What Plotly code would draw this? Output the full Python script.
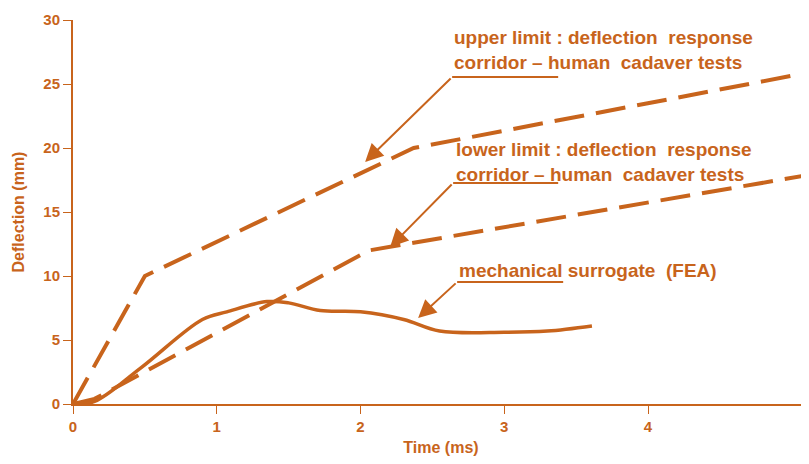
import plotly.graph_objects as go

# Data
upper_t = [0, 0.5, 2.37, 5.12]
upper_d = [0, 10, 20, 25.9]
lower_t = [0, 0.15, 2.06, 5.12]
lower_d = [0, 0.4, 12, 17.9]
fea_t = [0, 0.15, 0.47, 0.9, 1.07, 1.35, 1.5, 1.72, 2.0, 2.3, 2.55, 3.0, 3.3, 3.61]
fea_d = [0, 0.2, 2.8, 6.6, 7.2, 8.0, 7.9, 7.3, 7.2, 6.6, 5.7, 5.6, 5.7, 6.1]
x_ticks = [0, 1, 2, 3, 4]
y_ticks = [0, 5, 10, 15, 20, 25, 30]

C = "#c8641c"
FONT = "Liberation Sans, Arial, sans-serif"
SP = "\u00a0"

fig = go.Figure()
fig.add_trace(go.Scatter(x=upper_t, y=upper_d, mode="lines",
                         line=dict(color=C, width=4, dash="30px,12px"), hoverinfo="skip"))
fig.add_trace(go.Scatter(x=lower_t, y=lower_d, mode="lines",
                         line=dict(color=C, width=4, dash="30px,12px"), hoverinfo="skip"))
fig.add_trace(go.Scatter(x=fea_t, y=fea_d, mode="lines", line_shape="spline",
                         line=dict(color=C, width=3.5), hoverinfo="skip"))

def px2x(p):
    return (p - 73) / 143.7

def px2y(p):
    return (404 - p) / 12.8

annotations = []
shapes = []
line1 = "upper limit" + SP + ":" + SP + "deflection" + SP + SP + "response"
line2 = "corridor \u2013 human" + SP + SP + "cadaver tests"
line3 = "lower limit" + SP + ":" + SP + "deflection" + SP + SP + "response"
line4 = "mechanical surrogate" + SP + SP + "(FEA)"
labels = [
    ([line1, line2], 452, [37, 62], (452, 558, 77), (365, 162)),
    ([line3, line2], 454, [149, 174], (453, 558, 183), (390, 247)),
    ([line4], 457, [270], (457, 563, 282), (418, 318)),
]
for lines, lx, lys, ul, head in labels:
    for txt, ly in zip(lines, lys):
        annotations.append(dict(x=px2x(lx), y=px2y(ly), xref="x", yref="y", text="<b>" + txt + "</b>",
                                showarrow=False, xanchor="left", yanchor="middle",
                                font=dict(family=FONT, size=19, color=C)))
    shapes.append(dict(type="line", xref="x", yref="y", x0=px2x(ul[0]), x1=px2x(ul[1]),
                       y0=px2y(ul[2]), y1=px2y(ul[2]), line=dict(color=C, width=2)))
    annotations.append(dict(x=px2x(head[0]), y=px2y(head[1]), ax=px2x(ul[0]), ay=px2y(ul[2]),
                            xref="x", yref="y", axref="x", ayref="y", text="", showarrow=True,
                            arrowhead=2, arrowsize=1.8, arrowwidth=2, arrowcolor=C))

# page body has an 8px margin, so the figure is sized/margined to compensate
fig.update_layout(
    width=801, height=448,
    margin=dict(l=65, r=0, t=12, b=52),
    paper_bgcolor="white", plot_bgcolor="white",
    showlegend=False,
    font=dict(family=FONT, color=C, size=15),
    annotations=annotations, shapes=shapes,
    xaxis=dict(range=[0, 5.12], tickvals=x_ticks, ticks="outside", ticklen=8, tickcolor=C,
               showline=True, linecolor=C, linewidth=2, showgrid=False, zeroline=False,
               automargin=False, ticktext=["<b>%d</b>" % v for v in x_ticks],
               tickfont=dict(size=15, color=C),
               title=dict(text="<b>Time (ms)</b>", font=dict(size=16, color=C))),
    yaxis=dict(range=[0, 30], tickvals=y_ticks, ticks="outside", ticklen=8, tickcolor=C,
               showline=True, linecolor=C, linewidth=2, showgrid=False, zeroline=False,
               automargin=False, ticktext=["<b>%d</b>" % v for v in y_ticks],
               tickfont=dict(size=15, color=C),
               title=dict(text="<b>Deflection (mm)</b>", font=dict(size=16, color=C))),
)
fig.write_html("out.html")
